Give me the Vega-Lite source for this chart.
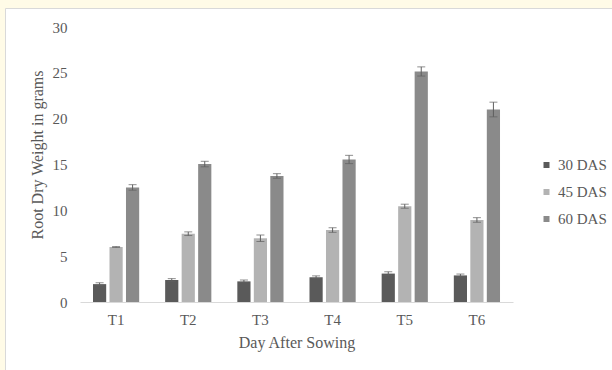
{
  "$schema": "https://vega.github.io/schema/vega-lite/v6.json",
  "width": 607,
  "height": 362,
  "autosize": {"type": "none"},
  "padding": {"left": 5, "top": 8, "right": 0, "bottom": 0},
  "background": "#fffbe7",
  "config": {
    "font": "Liberation Serif",
    "view": {"fill": "white", "stroke": "#d9d9d9"}
  },
  "data": {
    "values": [
      {"treatment": "T1", "stage": "30 DAS", "weight": 1.95, "err": 0.15},
      {"treatment": "T1", "stage": "45 DAS", "weight": 6.0, "err": 0.05},
      {"treatment": "T1", "stage": "60 DAS", "weight": 12.5, "err": 0.3},
      {"treatment": "T2", "stage": "30 DAS", "weight": 2.4, "err": 0.15},
      {"treatment": "T2", "stage": "45 DAS", "weight": 7.45, "err": 0.2},
      {"treatment": "T2", "stage": "60 DAS", "weight": 15.05, "err": 0.3},
      {"treatment": "T3", "stage": "30 DAS", "weight": 2.25, "err": 0.15},
      {"treatment": "T3", "stage": "45 DAS", "weight": 6.95, "err": 0.35},
      {"treatment": "T3", "stage": "60 DAS", "weight": 13.75, "err": 0.25},
      {"treatment": "T4", "stage": "30 DAS", "weight": 2.7, "err": 0.15},
      {"treatment": "T4", "stage": "45 DAS", "weight": 7.85, "err": 0.25},
      {"treatment": "T4", "stage": "60 DAS", "weight": 15.55, "err": 0.45},
      {"treatment": "T5", "stage": "30 DAS", "weight": 3.1, "err": 0.2},
      {"treatment": "T5", "stage": "45 DAS", "weight": 10.45, "err": 0.22},
      {"treatment": "T5", "stage": "60 DAS", "weight": 25.15, "err": 0.5},
      {"treatment": "T6", "stage": "30 DAS", "weight": 2.9, "err": 0.15},
      {"treatment": "T6", "stage": "45 DAS", "weight": 8.95, "err": 0.25},
      {"treatment": "T6", "stage": "60 DAS", "weight": 21.0, "err": 0.8}
    ]
  },
  "encoding": {
    "x": {
      "field": "treatment",
      "type": "nominal",
      "title": "Day After Sowing",
      "scale": {"range": [75, 508], "paddingInner": 0.36, "paddingOuter": 0.18},
      "axis": {
        "offset": -68,
        "domain": true,
        "domainColor": "#d9d9d9",
        "ticks": false,
        "tickSize": 0,
        "labelAngle": 0,
        "labelPadding": 10,
        "labelFontSize": 15,
        "labelColor": "#595959",
        "titleFontSize": 16,
        "titleFontWeight": "normal",
        "titleColor": "#595959",
        "titleY": 45,
        "titleBaseline": "alphabetic"
      }
    },
    "xOffset": {
      "field": "stage",
      "type": "nominal",
      "scale": {"paddingInner": 0.2, "paddingOuter": 0}
    },
    "y": {
      "field": "weight",
      "type": "quantitative",
      "title": "Root Dry Weight in grams",
      "scale": {"domain": [0, 30], "range": [294, 19], "nice": false},
      "axis": {
        "offset": -76,
        "values": [0, 5, 10, 15, 20, 25, 30],
        "domain": false,
        "ticks": false,
        "tickSize": 0,
        "grid": false,
        "labelPadding": 14,
        "labelFontSize": 15,
        "labelColor": "#595959",
        "titleFontSize": 16,
        "titleFontWeight": "normal",
        "titleColor": "#595959",
        "titleAngle": -90,
        "titleAlign": "center",
        "titleBaseline": "middle",
        "titleX": -44,
        "titleY": 146.5
      }
    }
  },
  "layer": [
    {
      "mark": {"type": "bar"},
      "encoding": {
        "color": {
          "field": "stage",
          "type": "nominal",
          "scale": {"domain": ["30 DAS", "45 DAS", "60 DAS"], "range": ["#5a5a5a", "#b3b3b3", "#8a8a8a"]},
          "legend": {
            "orient": "none",
            "legendX": 534,
            "legendY": 149.5,
            "title": null,
            "padding": 0,
            "symbolType": "square",
            "symbolSize": 36,
            "symbolStrokeWidth": 0,
            "labelFontSize": 15,
            "labelColor": "#595959",
            "labelOffset": 4,
            "rowPadding": 11
          }
        }
      }
    },
    {
      "mark": {
        "type": "errorbar",
        "color": "#5f5f5f",
        "ticks": {"size": 8, "thickness": 1, "color": "#5f5f5f"},
        "rule": {"strokeWidth": 1}
      },
      "encoding": {
        "yError": {"field": "err"}
      }
    }
  ]
}
